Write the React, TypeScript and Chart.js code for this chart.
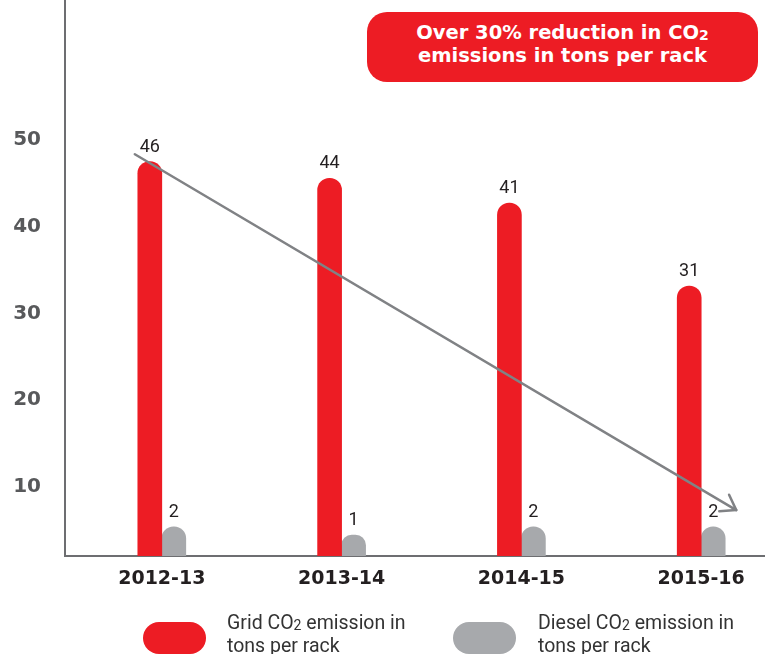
import React, { useEffect, useRef } from 'react';
import { Chart, registerables } from 'chart.js';

Chart.register(...registerables);

// ---- data ----
const CATEGORIES = ['2012-13', '2013-14', '2014-15', '2015-16'];
const GRID_CO2 = [46, 44, 41, 31];
const DIESEL_CO2 = [2, 1, 2, 2];
const Y_TICKS = [10, 20, 30, 40, 50];
const SERIES_NAMES = ['Grid', 'Diesel'];
const SERIES_COLORS = ['#ED1C24', '#A7A9AC'];
const CALLOUT_LINES = ['Over 30% reduction in CO', 'emissions in tons per rack'];
// trend arrow endpoints in data units: [category position, value]
const TREND_FROM = [-0.15, 46.9];
const TREND_TO = [3.195, 4.0];

// ---- scale ranges ----
const X_MIN = -0.5384;
const X_MAX = 3.3548;
const Y_MIN = -1.531;
const Y_MAX = 65.49;
const YT_MIN = 2.046;
const YT_MAX = 66.14;

const overlayPlugin = {
  id: 'overlay',
  afterDatasetsDraw(chart: any) {
    const ctx = chart.ctx;
    const xs = chart.scales.x;
    const ys = chart.scales.y;
    const x1 = xs.getPixelForValue(TREND_FROM[0]);
    const y1 = ys.getPixelForValue(TREND_FROM[1]);
    const x2 = xs.getPixelForValue(TREND_TO[0]);
    const y2 = ys.getPixelForValue(TREND_TO[1]);
    ctx.save();
    ctx.strokeStyle = '#808285';
    ctx.lineWidth = 2.5;
    ctx.lineCap = 'round';
    ctx.lineJoin = 'round';
    ctx.beginPath();
    ctx.moveTo(x1, y1);
    ctx.lineTo(x2, y2);
    ctx.stroke();
    const ang = Math.atan2(y2 - y1, x2 - x1);
    const L = 17;
    const spread = 0.6;
    ctx.beginPath();
    ctx.moveTo(x2 - L * Math.cos(ang - spread), y2 - L * Math.sin(ang - spread));
    ctx.lineTo(x2, y2);
    ctx.lineTo(x2 - L * Math.cos(ang + spread), y2 - L * Math.sin(ang + spread));
    ctx.stroke();

    ctx.font = '18px Roboto';
    ctx.fillStyle = '#231F20';
    ctx.textAlign = 'center';
    ctx.textBaseline = 'alphabetic';
    chart.data.datasets.forEach((ds: any, i: number) => {
      chart.getDatasetMeta(i).data.forEach((el: any, j: number) => {
        ctx.fillText(String(ds.data[j].y), el.x, el.y - 10);
      });
    });
    ctx.restore();
  },
};

export default function App() {
  const ref = useRef<HTMLCanvasElement | null>(null);

  useEffect(() => {
    if (!ref.current) return;
    const mk = (vals: number[]) => CATEGORIES.map((_, i) => ({ x: i, y: vals[i] }));
    const chart = new Chart(ref.current, {
      type: 'bar',
      data: {
        datasets: [
          {
            label: SERIES_NAMES[0],
            data: mk(GRID_CO2),
            backgroundColor: SERIES_COLORS[0],
            base: Y_MIN,
          } as any,
          {
            label: SERIES_NAMES[1],
            data: mk(DIESEL_CO2),
            backgroundColor: SERIES_COLORS[1],
            base: Y_MIN,
          } as any,
        ],
      },
      options: {
        animation: false,
        responsive: false,
        layout: { padding: 0 },
        datasets: {
          bar: {
            barThickness: 24,
            borderRadius: 12,
            borderSkipped: 'start',
            borderWidth: 0,
          },
        } as any,
        plugins: {
          legend: { display: false },
          tooltip: { enabled: false },
          title: { display: false },
        },
        scales: {
          x: {
            type: 'linear',
            min: X_MIN,
            max: X_MAX,
            offset: false,
            bounds: 'data',
            grid: { display: false, drawTicks: false, tickLength: 0, offset: false },
            border: { display: true, color: '#6D6E71', width: 2 },
            afterBuildTicks: (s: any) => {
              s.ticks = CATEGORIES.map((_, i) => ({ value: i }));
            },
            afterFit: (s: any) => {
              s.height = 98;
              s.paddingLeft = 0;
              s.paddingRight = 0;
            },
            ticks: {
              autoSkip: false,
              maxRotation: 0,
              includeBounds: false,
              padding: 12,
              color: '#231F20',
              font: { family: '"DejaVu Sans"', size: 19, weight: 'bold' },
              callback: (v: any) => CATEGORIES[v as number] ?? '',
            },
          },
          y: {
            display: false,
            min: Y_MIN,
            max: Y_MAX,
          },
          yTicks: {
            type: 'linear',
            position: 'left',
            min: YT_MIN,
            max: YT_MAX,
            bounds: 'data',
            grid: { display: false, drawTicks: false, tickLength: 0 },
            border: { display: true, color: '#6D6E71', width: 2 },
            afterBuildTicks: (s: any) => {
              s.ticks = Y_TICKS.map((v) => ({ value: v }));
            },
            afterFit: (s: any) => {
              s.width = 65;
              s.paddingTop = 0;
              s.paddingBottom = 0;
            },
            ticks: {
              padding: 24,
              includeBounds: false,
              color: '#58595B',
              font: { family: '"DejaVu Sans"', size: 20, weight: 'bold' },
            },
          },
        } as any,
      },
      plugins: [overlayPlugin],
    });
    return () => chart.destroy();
  }, []);

  const sub: React.CSSProperties = { fontSize: '0.72em', verticalAlign: 'baseline', position: 'relative', top: 1 };
  const legendX = [
    { pill: 143, text: 227 },
    { pill: 453, text: 538 },
  ];

  return (
    <div style={{ position: 'fixed', left: 0, top: 0, width: 765, height: 654, overflow: 'hidden', background: '#fff' }}>
      <canvas ref={ref} width={765} height={654} style={{ position: 'absolute', left: 0, top: 0, display: 'block' }} />
      <div
        style={{
          position: 'absolute',
          left: 367,
          top: 12,
          width: 391,
          height: 70,
          borderRadius: 20,
          background: '#ED1C24',
          color: '#fff',
          fontFamily: '"DejaVu Sans"',
          fontWeight: 'bold',
          fontSize: 19.5,
          lineHeight: '22px',
          textAlign: 'center',
          paddingTop: 10,
          boxSizing: 'border-box',
        }}
      >
        {CALLOUT_LINES[0]}
        <span style={sub}>2</span>
        <br />
        {CALLOUT_LINES[1]}
      </div>
      {SERIES_NAMES.map((name, i) => (
        <React.Fragment key={name}>
          <div
            style={{
              position: 'absolute',
              left: legendX[i].pill,
              top: 622,
              width: 63,
              height: 32,
              borderRadius: 16,
              background: SERIES_COLORS[i],
            }}
          />
          <div
            style={{
              position: 'absolute',
              left: legendX[i].text,
              top: 612,
              fontFamily: 'Roboto',
              fontSize: 19.5,
              lineHeight: '22px',
              color: '#333',
              whiteSpace: 'nowrap',
            }}
          >
            {name} CO<span style={sub}>2</span> emission in
            <br />
            tons per rack
          </div>
        </React.Fragment>
      ))}
    </div>
  );
}
